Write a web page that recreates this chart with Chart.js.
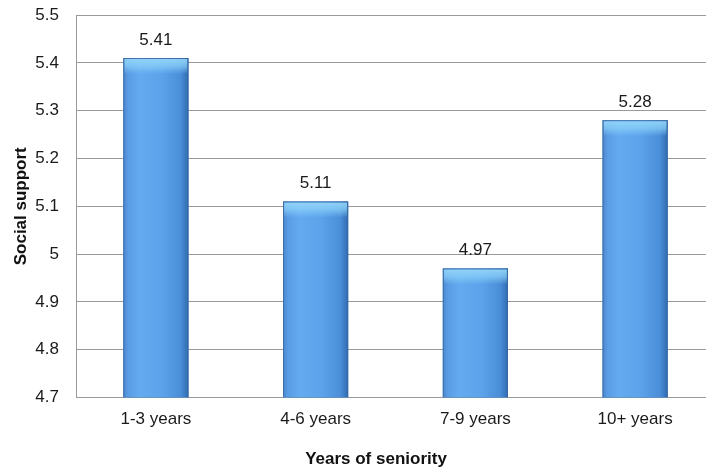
<!DOCTYPE html>
<html>
<head>
<meta charset="utf-8">
<script src="https://cdn.jsdelivr.net/npm/chart.js@4.4.1/dist/chart.umd.min.js"></script>
<style>
  html, body { margin: 0; padding: 0; background: #fff; overflow: hidden; }
  #wrap { width: 720px; height: 470px; }
</style>
</head>
<body>
<div id="wrap"><canvas id="c" width="720" height="470"></canvas></div>
<script>
const categories = ['1-3 years', '4-6 years', '7-9 years', '10+ years'];
const socialSupport = [5.41, 5.11, 4.97, 5.28];
const yTicks = [4.7, 4.8, 4.9, 5.0, 5.1, 5.2, 5.3, 5.4, 5.5];

const FONT = "'Liberation Sans', Arial, sans-serif";

// Glossy shading over each bar: horizontal sheen plus a light cap on top
const barShading = {
  id: 'barShading',
  afterDatasetsDraw(chart) {
    const ctx = chart.ctx;
    const area = chart.chartArea;
    const meta = chart.getDatasetMeta(0);
    ctx.save();
    ctx.beginPath();
    ctx.rect(area.left, area.top, area.right - area.left, area.bottom - area.top);
    ctx.clip();
    meta.data.forEach((bar) => {
      const p = bar.getProps(['x', 'y', 'width'], true);
      const l = p.x - p.width / 2, r = p.x + p.width / 2;
      const t = p.y, b = area.bottom;
      const g = ctx.createLinearGradient(l, 0, r, 0);
      g.addColorStop(0, '#4a88d0');
      g.addColorStop(0.08, '#5a9de4');
      g.addColorStop(0.25, '#64aaf0');
      g.addColorStop(0.6, '#5ba2ea');
      g.addColorStop(0.88, '#4a8ed8');
      g.addColorStop(1, '#2f6cb0');
      ctx.fillStyle = g;
      ctx.fillRect(l, t, r - l, b - t);
      const cap = ctx.createLinearGradient(0, t, 0, t + 16);
      cap.addColorStop(0, 'rgba(150,215,250,0.95)');
      cap.addColorStop(0.5, 'rgba(140,210,250,0.7)');
      cap.addColorStop(1, 'rgba(140,210,250,0)');
      ctx.fillStyle = cap;
      ctx.fillRect(l + 1, t + 1, r - l - 2, 16);
      ctx.strokeStyle = 'rgba(60,100,150,0.75)';
      ctx.lineWidth = 1;
      ctx.strokeRect(l + 0.5, t + 0.5, r - l - 1, b - t);
    });
    ctx.restore();
  }
};

// Value labels above the bars and the horizontal axis title
const annotations = {
  id: 'annotations',
  afterDraw(chart) {
    const ctx = chart.ctx;
    const meta = chart.getDatasetMeta(0);
    ctx.save();
    ctx.fillStyle = '#1a1a1a';
    ctx.font = '17px ' + FONT;
    ctx.textAlign = 'center';
    ctx.textBaseline = 'middle';
    meta.data.forEach((bar, i) => {
      ctx.fillText(socialSupport[i].toFixed(2), bar.x, bar.y - 18);
    });
    ctx.font = 'bold 17px ' + FONT;
    ctx.fillStyle = '#111';
    ctx.fillText('Years of seniority', 376, 459);
    ctx.restore();
  }
};

new Chart(document.getElementById('c'), {
  type: 'bar',
  data: {
    labels: categories,
    datasets: [{
      data: socialSupport,
      backgroundColor: '#5aa2ea',
      borderWidth: 0,
      barPercentage: 0.815,
      categoryPercentage: 0.5
    }]
  },
  options: {
    responsive: false,
    animation: false,
    layout: { padding: { left: 0, top: 15, right: 5, bottom: 0 } },
    plugins: { legend: { display: false }, tooltip: { enabled: false } },
    scales: {
      x: {
        grid: { display: false, drawTicks: false },
        border: { color: '#999', width: 1 },
        ticks: { color: '#1a1a1a', font: { family: FONT, size: 17 }, padding: 12 },
        afterFit(scale) { scale.height = 72.5; }
      },
      y: {
        min: 4.7,
        max: 5.5,
        afterBuildTicks(scale) { scale.ticks = yTicks.map(v => ({ value: v })); },
        grid: { color: '#9a9a9a', lineWidth: 1, drawTicks: false },
        border: { color: '#999', width: 1 },
        ticks: {
          color: '#1a1a1a',
          font: { family: FONT, size: 17 },
          padding: 17,
          callback: (v) => String(Math.round(v * 10) / 10)
        },
        title: {
          display: true,
          text: 'Social support',
          color: '#111',
          font: { family: FONT, size: 17, weight: 'bold' },
          padding: { top: 11, bottom: 0 }
        },
        afterFit(scale) {
          scale.width = 76;
          scale.paddingTop = 0;
          scale.paddingBottom = 0;
        }
      }
    }
  },
  plugins: [barShading, annotations]
});
</script>
</body>
</html>
